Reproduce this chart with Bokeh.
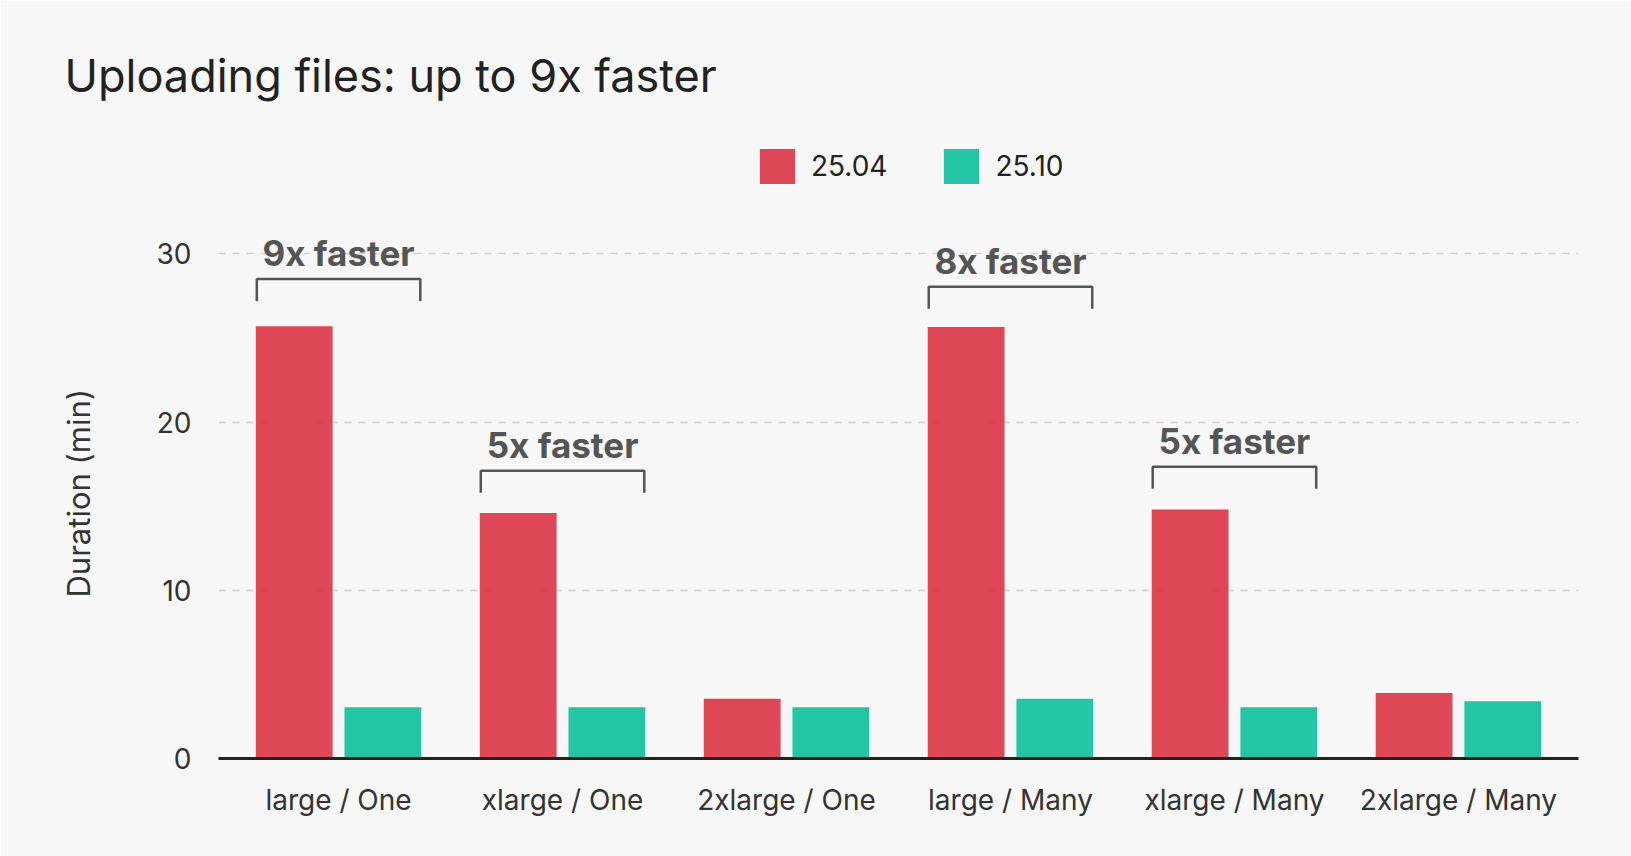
from bokeh.plotting import figure
from bokeh.models import (ColumnDataSource, FactorRange, Range1d, FixedTicker,
                          Legend, LegendItem, Title)
from bokeh.transform import dodge
from bokeh.core.properties import value
from bokeh.embed import file_html
from bokeh.resources import INLINE

# ---- data ----
categories = ["large / One", "xlarge / One", "2xlarge / One",
              "large / Many", "xlarge / Many", "2xlarge / Many"]
series_names = ["25.04", "25.10"]
v_2504 = [25.7, 14.6, 3.55, 25.65, 14.8, 3.9]
v_2510 = [3.05, 3.05, 3.05, 3.55, 3.05, 3.4]
y_ticks = [0, 10, 20, 30]

annot_categories = ["large / One", "xlarge / One", "large / Many", "xlarge / Many"]
annot_labels = ["9x faster", "5x faster", "8x faster", "5x faster"]
annot_levels = [27.2, 15.8, 26.74, 16.04]   # bracket foot level (min)

# ---- style ----
BG = "#f7f7f7"
RED = "#dc3445"
TEAL = "#0bbf9c"
FONT = "Inter"
OFF = 0.198
BAR_W = 0.343
BR_HALF = 0.365
BR_H = 1.3
TXT_GAP = 1.55
TOP = 107
PX_PER_UNIT = 16.823

source = ColumnDataSource(dict(cat=categories, a=v_2504, b=v_2510))

p = figure(width=1631, height=856, output_backend="svg", toolbar_location=None,
           x_range=FactorRange(factors=categories, range_padding=0.036,
                               range_padding_units="absolute"),
           y_range=Range1d(0, (758 - TOP) / PX_PER_UNIT),
           min_border_left=218, min_border_right=53, min_border_top=TOP,
           min_border_bottom=98, background_fill_color=BG,
           border_fill_color=BG, outline_line_color=None)

r_a = p.vbar(x=dodge("cat", -OFF, range=p.x_range), top="a", width=BAR_W,
             source=source, fill_color=RED, fill_alpha=0.9, line_color=None)
r_b = p.vbar(x=dodge("cat", OFF, range=p.x_range), top="b", width=BAR_W,
             source=source, fill_color=TEAL, fill_alpha=0.9, line_color=None)

# brackets and ratio labels
idx = [categories.index(c) + 0.5 for c in annot_categories]
xs, ys = [], []
for cx, lv in zip(idx, annot_levels):
    xs.append([cx - BR_HALF, cx - BR_HALF, cx + BR_HALF, cx + BR_HALF])
    ys.append([lv, lv + BR_H, lv + BR_H, lv])
p.multi_line(xs=xs, ys=ys, line_color="#555555", line_width=2.5)
p.text(x=idx, y=[lv + BR_H + TXT_GAP for lv in annot_levels], text=annot_labels,
       text_font=value(FONT), text_font_style="bold", text_font_size="35px",
       text_color="#555555", text_align="center", text_baseline="alphabetic")

# axes
p.yaxis.ticker = FixedTicker(ticks=y_ticks)
p.yaxis.axis_line_color = None
p.yaxis.major_tick_line_color = None
p.yaxis.minor_tick_line_color = None
p.yaxis.major_label_standoff = 21
p.yaxis.major_label_text_font = FONT
p.yaxis.major_label_text_font_size = "28px"
p.yaxis.major_label_text_color = "#333333"

p.xaxis.axis_line_color = "#222222"
p.xaxis.axis_line_width = 3
p.xaxis.major_tick_line_color = None
p.xaxis.minor_tick_line_color = None
p.xaxis.major_label_standoff = 18
p.xaxis.major_label_text_font = FONT
p.xaxis.major_label_text_font_size = "28px"
p.xaxis.major_label_text_color = "#333333"

p.xgrid.grid_line_color = None
p.ygrid.grid_line_color = "#cfcfcf"
p.ygrid.grid_line_dash = "7 7"
p.ygrid.grid_line_width = 1.5

# y-axis title, placed along the left side
p.add_layout(Title(text="Duration (min)", align="left", vertical_align="top",
                   offset=161, standoff=110, text_font=FONT,
                   text_font_size="31px", text_font_style="normal",
                   text_color="#333333"), "left")

# legend
legend = Legend(items=[LegendItem(label=series_names[0], renderers=[r_a]),
                       LegendItem(label=series_names[1], renderers=[r_b])],
                location=(537, 570), orientation="horizontal",
                glyph_width=44, glyph_height=44, label_height=44,
                label_standoff=12, spacing=52, padding=0, margin=0,
                border_line_color=None, background_fill_alpha=0,
                label_text_font=FONT, label_text_font_size="28px",
                label_text_color="#222222")
p.add_layout(legend)

# title
p.add_layout(Title(text="Uploading files: up to 9x faster", align="left",
                   offset=-154, text_font=FONT,
                   text_font_size="45px", text_font_style="normal",
                   text_color="#222222"), "above")

open("out.html", "w").write(file_html(p, INLINE))
